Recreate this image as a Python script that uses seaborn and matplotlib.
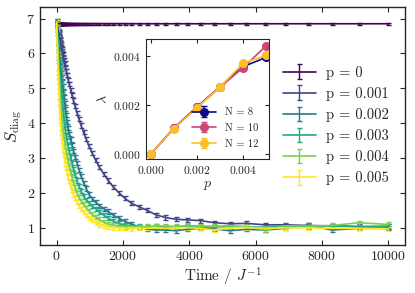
import numpy as np
import matplotlib
matplotlib.use("Agg")
import matplotlib.pyplot as plt
import seaborn as sns

# time grid (J^-1)
time = [1, 5, 15, 30, 50, 55, 60, 66, 72, 79, 87, 96, 105, 115, 126, 139, 152, 167, 183, 201,
        221, 242, 266, 292, 320, 351, 385, 423, 464, 509, 559, 614, 673, 739, 811, 890, 977,
        1072, 1177, 1292, 1418, 1556, 1707, 1874, 2057, 2257, 2477, 2719, 2984, 3275, 3594,
        3944, 4329, 4751, 5214, 5722, 6280, 6893, 7565, 8302, 9112, 10000]

s_p0 = [6.93, 6.88, 6.86, 6.85, 6.85, 6.85, 6.85, 6.85, 6.85, 6.85, 6.85, 6.85, 6.85, 6.85, 6.85,
        6.85, 6.85, 6.85, 6.85, 6.85, 6.85, 6.85, 6.85, 6.85, 6.85, 6.85, 6.85, 6.85, 6.85, 6.85,
        6.85, 6.85, 6.85, 6.85, 6.85, 6.85, 6.85, 6.85, 6.85, 6.85, 6.85, 6.85, 6.85, 6.85, 6.85,
        6.85, 6.85, 6.85, 6.85, 6.85, 6.85, 6.85, 6.85, 6.85, 6.85, 6.85, 6.85, 6.85, 6.85, 6.85,
        6.85, 6.85]
s_p1 = [6.92, 6.90, 6.85, 6.76, 6.65, 6.63, 6.60, 6.57, 6.54, 6.50, 6.46, 6.41, 6.37, 6.32, 6.26,
        6.19, 6.13, 6.06, 5.98, 5.90, 5.80, 5.71, 5.60, 5.49, 5.37, 5.24, 5.11, 4.96, 4.81, 4.65,
        4.48, 4.30, 4.12, 3.93, 3.74, 3.54, 3.34, 3.14, 2.93, 2.73, 2.54, 2.35, 2.17, 2.00, 1.84,
        1.70, 1.60, 1.50, 1.37, 1.29, 1.24, 1.22, 1.20, 1.14, 1.11, 1.12, 1.08, 1.08, 1.06, 1.05,
        1.03, 1.03]
s_p2 = [6.92, 6.87, 6.75, 6.57, 6.34, 6.29, 6.23, 6.17, 6.10, 6.03, 5.95, 5.85, 5.76, 5.67, 5.56,
        5.44, 5.32, 5.19, 5.05, 4.90, 4.74, 4.58, 4.41, 4.23, 4.04, 3.85, 3.69, 3.53, 3.37, 3.20,
        3.03, 2.86, 2.66, 2.47, 2.29, 2.12, 1.95, 1.83, 1.73, 1.63, 1.54, 1.46, 1.36, 1.27, 1.18,
        1.10, 1.02, 0.96, 0.93, 0.93, 0.91, 0.95, 0.98, 0.96, 0.91, 0.95, 0.93, 0.98, 1.07, 0.93,
        0.98, 0.98]
s_p3 = [6.91, 6.85, 6.68, 6.44, 6.14, 6.06, 5.99, 5.91, 5.82, 5.73, 5.62, 5.50, 5.39, 5.26, 5.13,
        4.98, 4.83, 4.67, 4.50, 4.33, 4.14, 3.96, 3.78, 3.63, 3.48, 3.33, 3.18, 3.01, 2.86, 2.69,
        2.52, 2.35, 2.19, 2.04, 1.89, 1.80, 1.71, 1.62, 1.54, 1.45, 1.36, 1.27, 1.19, 1.12, 1.07,
        1.04, 1.03, 1.02, 1.04, 1.01, 1.02, 1.03, 1.01, 1.02, 1.03, 1.02, 1.01, 1.04, 1.03, 1.05,
        1.02, 1.04]
s_p4 = [6.91, 6.81, 6.59, 6.27, 5.87, 5.77, 5.68, 5.57, 5.46, 5.34, 5.20, 5.06, 4.92, 4.76, 4.60,
        4.42, 4.25, 4.07, 3.88, 3.73, 3.60, 3.47, 3.33, 3.19, 3.05, 2.90, 2.75, 2.60, 2.44, 2.29,
        2.15, 2.00, 1.87, 1.77, 1.67, 1.57, 1.48, 1.38, 1.30, 1.23, 1.16, 1.10, 1.07, 1.04, 1.03,
        1.04, 1.02, 1.03, 1.04, 1.05, 1.03, 1.06, 1.05, 1.04, 1.05, 1.03, 0.93, 1.05, 1.04, 1.06,
        1.14, 1.09]
s_p5 = [6.90, 6.77, 6.44, 5.99, 5.44, 5.32, 5.19, 5.05, 4.91, 4.76, 4.59, 4.40, 4.23, 4.05, 3.86,
        3.72, 3.61, 3.49, 3.37, 3.24, 3.11, 2.97, 2.83, 2.71, 2.59, 2.46, 2.33, 2.20, 2.07, 1.95,
        1.84, 1.73, 1.63, 1.54, 1.45, 1.36, 1.28, 1.21, 1.14, 1.09, 1.05, 1.02, 1.00, 0.98, 0.99,
        0.97, 0.99, 0.98, 0.99, 0.98, 0.99, 1.00, 0.98, 0.93, 0.99, 1.00, 0.98, 0.99, 0.99, 0.98,
        0.98, 0.96]

p_labels = ["p = 0", "p = 0.001", "p = 0.002", "p = 0.003", "p = 0.004", "p = 0.005"]
p_err = [0.03, 0.06, 0.06, 0.06, 0.06, 0.06]

# inset: decay rate vs p
p_vals = [0.0, 0.001, 0.002, 0.003, 0.004, 0.005]
lam_n8 = [0.0, 0.00106, 0.00193, 0.00275, 0.00357, 0.00395]
lam_n10 = [0.0, 0.00105, 0.00191, 0.00273, 0.00353, 0.00442]
lam_n12 = [0.0, 0.00104, 0.00190, 0.00274, 0.00371, 0.00403]
n_labels = ["N = 8", "N = 10", "N = 12"]
lam_err = 0.00006

sns.set_style("ticks")
plt.rcParams["font.family"] = ["cmr10", "DejaVu Serif"]
plt.rcParams["mathtext.fontset"] = "cm"
plt.rcParams["axes.formatter.use_mathtext"] = True
plt.rcParams["axes.unicode_minus"] = False

fig = plt.figure(figsize=(4.15, 2.93), dpi=100)
ax = fig.add_axes([0.0964, 0.1638, 0.8795, 0.8122])

colors = plt.cm.viridis(np.linspace(0, 1, 6))
series = [s_p0, s_p1, s_p2, s_p3, s_p4, s_p5]
for s, lab, c, e in zip(series, p_labels, colors, p_err):
    ax.errorbar(time, s, yerr=e, color=c, lw=1.2, elinewidth=1.0, capsize=1.8,
                capthick=1.0, label=lab)

ax.set_xlim(-500, 10500)
ax.set_ylim(0.5, 7.33)
ax.set_xticks([0, 2000, 4000, 6000, 8000, 10000])
ax.set_yticks([1, 2, 3, 4, 5, 6, 7])
ax.tick_params(direction="in", top=True, right=True, labelsize=10, length=3.5, width=0.8)
for sp in ax.spines.values():
    sp.set_linewidth(1.0)
ax.set_xlabel("Time / $J^{-1}$", fontsize=11, labelpad=2)
ax.set_ylabel(r"$S_{\rm diag}$", fontsize=12, labelpad=2)
ax.legend(loc="center left", bbox_to_anchor=(0.649, 0.502), frameon=False, fontsize=10.5,
          handlelength=2.25, handletextpad=0.75, labelspacing=0.49, borderaxespad=0)

# inset
ins = fig.add_axes([0.352, 0.457, 0.295, 0.41])
inset_colors = ["#0d0887", "#cc4778", "#fcbf2b"]
for lam, lab, c in zip([lam_n8, lam_n10, lam_n12], n_labels, inset_colors):
    ins.errorbar(p_vals, lam, yerr=lam_err, color=c, marker="o", ms=5.5, lw=1.2,
                 capsize=2, label=lab)
ins.set_xlim(-0.0002, 0.0051)
ins.set_ylim(-0.0002, 0.0047)
ins.set_xticks([0, 0.002, 0.004])
ins.set_yticks([0, 0.002, 0.004])
ins.tick_params(direction="in", top=True, right=True, labelsize=8.3, length=3, width=0.8)
ins.set_xlabel("$p$", fontsize=10, labelpad=2)
ins.set_ylabel(r"$\lambda$", fontsize=10, labelpad=2)
ins.legend(loc="lower right", frameon=False, fontsize=7.5, handlelength=2.3,
           handletextpad=0.8, labelspacing=0.6, borderaxespad=0.6)

fig.savefig("out.png", dpi=100)
